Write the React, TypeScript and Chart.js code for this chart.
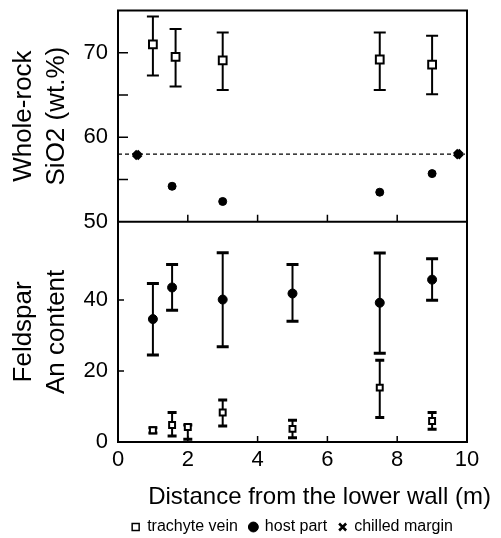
import React, { useEffect, useRef } from 'react';
import { Chart, registerables } from 'chart.js';

Chart.register(...registerables);

const FONT = "'Liberation Sans', Arial, Helvetica, sans-serif";

// ---- axis ticks / labels ----
const xTickValues = [0, 2, 4, 6, 8, 10];
const xTickMarks = [2, 4, 6, 8];
const siTickValues = [50, 60, 70];
const siTickMarks = [55, 60, 65, 70];
const anTickValues = [0, 20, 40];
const anTickMarks = [20, 40];

const xTitle = 'Distance from the lower wall (m)';
const siTitle = ['Whole-rock', 'SiO2 (wt.%)'];
const anTitle = ['Feldspar', 'An content'];
const legendNames = ['trachyte vein', 'host part', 'chilled margin'];

// ---- Whole-rock SiO2 (wt.%) ----
const veinSiX = [1.0, 1.65, 3.0, 7.5, 9.0];
const veinSiY = [71.0, 69.5, 69.1, 69.2, 68.6];
const veinSiLow = [67.3, 66.0, 65.6, 65.6, 65.1];
const veinSiHigh = [74.3, 72.8, 72.4, 72.4, 72.0];

const hostSiX = [1.55, 3.0, 7.5, 9.0];
const hostSiY = [54.2, 52.4, 53.5, 55.7];

const chilledSiX = [0.55, 9.75];
const chilledSiY = [57.9, 58.0];
const chilledLevel = 58;

// ---- Feldspar An content ----
const hostAnX = [1.0, 1.55, 3.0, 5.0, 7.5, 9.0];
const hostAnY = [34.6, 43.5, 40.1, 41.8, 39.2, 45.7];
const hostAnLow = [24.5, 37.1, 26.8, 34.0, 25.0, 39.9];
const hostAnHigh = [44.6, 50.0, 53.3, 50.0, 53.2, 51.6];

const veinAnX = [1.0, 1.55, 2.0, 3.0, 5.0, 7.5, 9.0];
const veinAnY = [3.3, 4.8, 4.2, 8.3, 3.7, 15.3, 5.9];
const veinAnLow = [2.5, 1.7, 0.8, 4.5, 1.2, 6.9, 3.6];
const veinAnHigh = [4.0, 8.3, 4.8, 11.8, 6.1, 23.0, 8.3];

const xRange = [0, 10];
const siRange = [50, 75];
const anRange = [0, 62];

export default function App() {
  const ref = useRef<HTMLCanvasElement>(null);

  useEffect(() => {
    const canvas = ref.current;
    if (!canvas) return;
    const pts = (xs: number[], ys: number[]) => xs.map((x, i) => ({ x, y: ys[i] }));

    const errorSets = [
      { axis: 'ySi', x: veinSiX, lo: veinSiLow, hi: veinSiHigh, cap: 12, lw: 2, capLw: 2 },
      { axis: 'yAn', x: hostAnX, lo: hostAnLow, hi: hostAnHigh, cap: 12, lw: 2, capLw: 3 },
      { axis: 'yAn', x: veinAnX, lo: veinAnLow, hi: veinAnHigh, cap: 9, lw: 2, capLw: 3 },
    ];

    const errorBarPlugin = {
      id: 'errorBars',
      beforeDatasetsDraw(chart: any) {
        const ctx = chart.ctx;
        const xs = chart.scales.x;
        ctx.save();
        ctx.strokeStyle = '#000';
        ctx.lineCap = 'butt';
        for (const s of errorSets) {
          const ys = chart.scales[s.axis];
          s.x.forEach((xv: number, i: number) => {
            const px = xs.getPixelForValue(xv);
            const pLo = ys.getPixelForValue(s.lo[i]);
            const pHi = ys.getPixelForValue(s.hi[i]);
            ctx.lineWidth = s.lw;
            ctx.beginPath();
            ctx.moveTo(px, pLo);
            ctx.lineTo(px, pHi);
            ctx.stroke();
            ctx.lineWidth = s.capLw;
            ctx.beginPath();
            ctx.moveTo(px - s.cap / 2, pLo);
            ctx.lineTo(px + s.cap / 2, pLo);
            ctx.moveTo(px - s.cap / 2, pHi);
            ctx.lineTo(px + s.cap / 2, pHi);
            ctx.stroke();
          });
        }
        ctx.restore();
      },
    };

    const framePlugin = {
      id: 'frame',
      afterDatasetsDraw(chart: any) {
        const ctx = chart.ctx;
        const { left, right, top, bottom } = chart.chartArea;
        const xs = chart.scales.x;
        const ySi = chart.scales.ySi;
        const yAn = chart.scales.yAn;
        const divider = ySi.bottom;
        ctx.save();
        ctx.strokeStyle = '#000';
        ctx.lineWidth = 2;
        ctx.strokeRect(left, top, right - left, bottom - top);
        ctx.beginPath();
        ctx.moveTo(left, divider);
        ctx.lineTo(right, divider);
        ctx.stroke();
        ctx.lineWidth = 1.5;
        ctx.beginPath();
        for (const v of siTickMarks) {
          const y = ySi.getPixelForValue(v);
          ctx.moveTo(left, y);
          ctx.lineTo(left + 10, y);
        }
        for (const v of anTickMarks) {
          const y = yAn.getPixelForValue(v);
          ctx.moveTo(left, y);
          ctx.lineTo(left + 6, y);
        }
        for (const v of xTickMarks) {
          const x = xs.getPixelForValue(v);
          ctx.moveTo(x, divider);
          ctx.lineTo(x, divider - 7);
          ctx.moveTo(x, bottom);
          ctx.lineTo(x, bottom - 6);
        }
        ctx.stroke();
        ctx.restore();
      },
      afterDraw(chart: any) {
        const ctx = chart.ctx;
        const xs = chart.scales.x;
        ctx.save();
        ctx.fillStyle = '#000';
        ctx.font = `24px ${FONT}`;
        ctx.textAlign = 'center';
        ctx.textBaseline = 'middle';
        const cx = (xs.left + xs.right) / 2 + 27;
        ctx.fillText(xTitle, cx, xs.top + 55);
        ctx.restore();
      },
    };

    const tickFont = { family: FONT, size: 22 };
    const titleFont = { family: FONT, size: 26, lineHeight: 1.27 };

    const chart = new Chart(canvas, {
      type: 'scatter',
      data: {
        datasets: [
          {
            label: legendNames[0],
            data: pts(veinSiX, veinSiY),
            yAxisID: 'ySi',
            pointStyle: 'rect',
            pointRadius: 5.5,
            backgroundColor: '#fff',
            borderColor: '#000',
            pointBackgroundColor: '#fff',
            pointBorderColor: '#000',
            pointBorderWidth: 2,
            borderWidth: 2,
          },
          {
            label: legendNames[1],
            data: pts(hostSiX, hostSiY),
            yAxisID: 'ySi',
            pointStyle: 'circle',
            pointRadius: 4,
            backgroundColor: '#000',
            borderColor: '#000',
            pointBackgroundColor: '#000',
            pointBorderColor: '#000',
            pointBorderWidth: 1,
            borderWidth: 1,
          },
          {
            label: legendNames[2],
            data: pts(chilledSiX, chilledSiY),
            yAxisID: 'ySi',
            pointStyle: 'crossRot',
            pointRadius: 4.5,
            backgroundColor: '#000',
            borderColor: '#000',
            pointBorderColor: '#000',
            pointBorderWidth: 6,
            borderWidth: 2.5,
          },
          {
            label: 'vein-an',
            data: pts(veinAnX, veinAnY),
            yAxisID: 'yAn',
            pointStyle: 'rect',
            pointRadius: 4.2,
            backgroundColor: '#fff',
            borderColor: '#000',
            pointBackgroundColor: '#fff',
            pointBorderColor: '#000',
            pointBorderWidth: 2,
          },
          {
            label: 'host-an',
            data: pts(hostAnX, hostAnY),
            yAxisID: 'yAn',
            pointStyle: 'circle',
            pointRadius: 4.5,
            backgroundColor: '#000',
            borderColor: '#000',
            pointBackgroundColor: '#000',
            pointBorderColor: '#000',
            pointBorderWidth: 1,
          },
          {
            label: 'level',
            data: [
              { x: xRange[0], y: chilledLevel },
              { x: xRange[1], y: chilledLevel },
            ],
            yAxisID: 'ySi',
            showLine: true,
            borderColor: '#000',
            borderWidth: 1.2,
            borderDash: [4, 3],
            pointRadius: 0,
            fill: false,
          } as any,
        ],
      },
      options: {
        animation: false,
        responsive: false,
        events: [],
        layout: { padding: { top: 9, left: 0, right: 34, bottom: -7 } },
        plugins: {
          tooltip: { enabled: false },
          legend: {
            position: 'bottom',
            fullSize: false,
            labels: {
              usePointStyle: true,
              boxWidth: 7,
              boxHeight: 7,
              padding: 12,
              color: '#000',
              font: { family: FONT, size: 16 },
              generateLabels: (ch: any) =>
                Chart.defaults.plugins.legend.labels
                  .generateLabels(ch)
                  .filter((l: any) => l.datasetIndex < 3)
                  .map((l: any) => ({
                    ...l,
                    lineWidth: l.datasetIndex === 0 ? 1.5 : l.datasetIndex === 2 ? 2.5 : 1,
                  })),
            },
          },
        },
        scales: {
          x: {
            type: 'linear',
            min: xRange[0],
            max: xRange[1],
            position: 'bottom',
            grid: { display: false, drawTicks: false },
            border: { display: false },
            ticks: { color: '#000', font: tickFont, padding: 5, maxRotation: 0, autoSkip: false },
            afterBuildTicks: (s: any) => {
              s.ticks = xTickValues.map((v) => ({ value: v }));
            },
            afterFit: (s: any) => {
              s.height = 65;
              s.paddingLeft = 0;
              s.paddingRight = 0;
            },
          },
          yAn: {
            type: 'linear',
            position: 'left',
            stack: 'panels',
            stackWeight: 221,
            weight: 0,
            min: anRange[0],
            max: anRange[1],
            grid: { display: false, drawTicks: false },
            border: { display: false },
            ticks: { color: '#000', font: tickFont, padding: 10, autoSkip: false },
            afterBuildTicks: (s: any) => {
              s.ticks = anTickValues.map((v) => ({ value: v }));
            },
            afterFit: (s: any) => {
              s.width = 118;
              s.paddingTop = 0;
              s.paddingBottom = 0;
            },
            title: {
              display: true,
              text: anTitle,
              color: '#000',
              font: titleFont,
              padding: { top: 7.5, bottom: 0 },
            },
          },
          ySi: {
            type: 'linear',
            position: 'left',
            stack: 'panels',
            stackWeight: 212,
            weight: 1,
            min: siRange[0],
            max: siRange[1],
            grid: { display: false, drawTicks: false },
            border: { display: false },
            ticks: { color: '#000', font: tickFont, padding: 10, autoSkip: false },
            afterBuildTicks: (s: any) => {
              s.ticks = siTickValues.map((v) => ({ value: v }));
            },
            afterFit: (s: any) => {
              s.width = 118;
              s.paddingTop = 0;
              s.paddingBottom = 0;
            },
            title: {
              display: true,
              text: siTitle,
              color: '#000',
              font: titleFont,
              padding: { top: 7.5, bottom: 0 },
            },
          },
        } as any,
      },
      plugins: [errorBarPlugin, framePlugin],
    } as any);

    return () => chart.destroy();
  }, []);

  return (
    <div style={{ position: 'fixed', left: 0, top: 0, width: 501, height: 538, background: '#fff' }}>
      <canvas ref={ref} width={501} height={538} style={{ display: 'block' }} />
    </div>
  );
}
